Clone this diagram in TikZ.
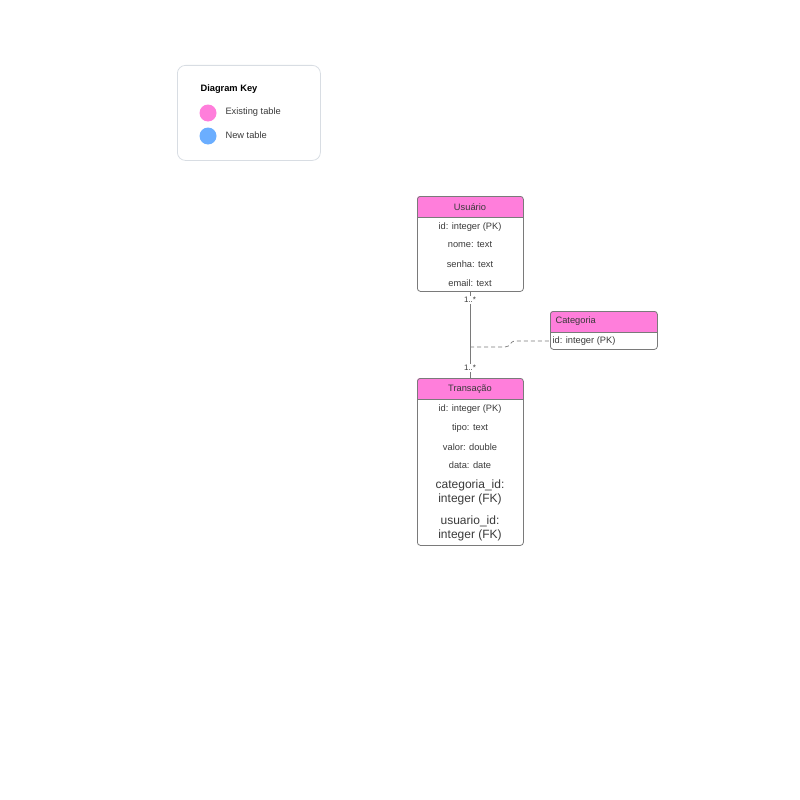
\documentclass[tikz,border=0pt]{standalone}
\usepackage{fontspec}
\setmainfont{Liberation Sans}
\definecolor{existpink}{HTML}{FF7EDB}
\definecolor{newblue}{HTML}{6BAEFF}
\definecolor{linegray}{HTML}{7A7A7A}
\definecolor{keyborder}{HTML}{D8DDE3}
\definecolor{txtgray}{HTML}{3A3A3A}

\begin{document}
\begin{tikzpicture}[x=1pt,y=-1pt,
    tbl/.style={draw=linegray, rounded corners=3pt, line width=0.8pt, inner sep=0pt, anchor=north west},
    hdr/.style={font=\fontsize{9.3}{10}\selectfont, text=txtgray},
    fld/.style={font=\fontsize{9.3}{10}\selectfont, text=txtgray},
    bigfld/.style={font=\fontsize{12}{14}\selectfont, text=txtgray, align=center},
    mult/.style={font=\fontsize{8}{9}\selectfont, text=txtgray, fill=white, inner sep=1pt},
    keydot/.style={circle, minimum size=17pt, inner sep=0pt}]
        \useasboundingbox (0,0) rectangle (800,800);
        % diagram key
        \node[draw=keyborder, line width=0.8pt, rounded corners=8pt, minimum width=143pt, minimum height=95pt, anchor=north west] (key) at (177,65) {};
        \node[anchor=west, font=\bfseries\fontsize{9.3}{10}\selectfont] (keytitle) at (197,89.5) {Diagram Key};
        \node[keydot, fill=existpink] (existdot) at (208,113) {};
        \node[keydot, fill=newblue] (newdot) at (208,136) {};
        \node[anchor=west, fld] (existlbl) at (222,112.5) {Existing table};
        \node[anchor=west, fld] (newlbl) at (222,135.5) {New table};
        % Usuario
        \fill[existpink, rounded corners=3pt] (417,217) -- (417,196) -- (523,196) [sharp corners] -- (523,217) -- cycle;
        \draw[linegray, line width=0.8pt] (417,217) -- (523,217);
        \node[tbl, minimum width=106pt, minimum height=95pt] (usuario) at (417,196) {};
        \node[hdr] (usuario-title) at (470,207) {Usuário};
        \node[fld] (usuario-id) at (470,227) {id: integer (PK)};
        \node[fld] (usuario-nome) at (470,245) {nome: text};
        \node[fld] (usuario-senha) at (470,264) {senha: text};
        \node[fld] (usuario-email) at (470,283) {email: text};
        % Categoria
        \fill[existpink, rounded corners=3pt] (550,332) -- (550,311) -- (657,311) [sharp corners] -- (657,332) -- cycle;
        \draw[linegray, line width=0.8pt] (550,332) -- (657,332);
        \node[tbl, minimum width=107pt, minimum height=38pt] (categoria) at (550,311) {};
        \node[hdr, anchor=west] (categoria-title) at (552,321) {Categoria};
        \node[fld, anchor=west] (categoria-id) at (549,341) {id: integer (PK)};
        % Transacao
        \fill[existpink, rounded corners=3pt] (417,399) -- (417,378) -- (523,378) [sharp corners] -- (523,399) -- cycle;
        \draw[linegray, line width=0.8pt] (417,399) -- (523,399);
        \node[tbl, minimum width=106pt, minimum height=167pt] (transacao) at (417,378) {};
        \node[hdr] (transacao-title) at (470,389) {Transação};
        \node[fld] (transacao-id) at (470,409) {id: integer (PK)};
        \node[fld] (transacao-tipo) at (470,428) {tipo: text};
        \node[fld] (transacao-valor) at (470,447) {valor: double};
        \node[fld] (transacao-data) at (470,465) {data: date};
        \node[bigfld] (transacao-cat) at (470,492) {categoria\_id:\\integer (FK)};
        \node[bigfld] (transacao-usu) at (470,528) {usuario\_id:\\integer (FK)};
        % relations
        \draw[linegray, line width=0.7pt] (usuario.south) -- (transacao.north);
        \node[mult] (mult-top) at (470,300) {1..*};
        \node[mult] (mult-bot) at (470,368) {1..*};
        \coordinate (joint) at (470,347);
        \coordinate (catport) at (550,341);
        \draw[linegray, line width=0.7pt, dash pattern=on 4pt off 3pt] (joint) -- (505,347) .. controls (511,347) and (509,341) .. (516,341) -- (catport);
\end{tikzpicture}
\end{document}
